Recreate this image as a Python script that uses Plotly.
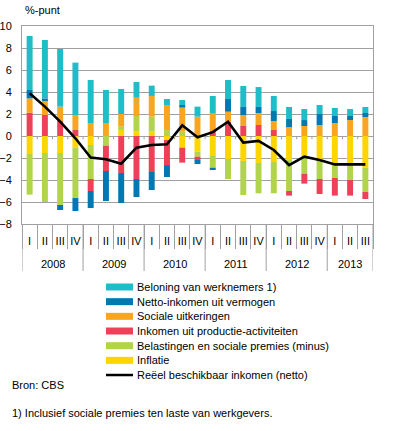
import plotly.graph_objects as go

years = ["2008"] * 4 + ["2009"] * 4 + ["2010"] * 4 + ["2011"] * 4 + ["2012"] * 4 + ["2013"] * 3
quarters = ["I", "II", "III", "IV"] * 5 + ["I", "II", "III"]
year_labels = ["2008", "2009", "2010", "2011", "2012", "2013"]

beloning = [4.91, 5.31, 5.24, 4.76, 3.91, 3.00, 2.27, 1.43, 0.94, 0.54, 0.45, 0.91,
            1.61, 1.73, 1.91, 1.81, 1.37, 1.09, 1.00, 0.82, 0.73, 0.63, 0.55]
netto_vermogen = [0.76, 0.15, -0.46, -1.18, -1.55, -2.73, -2.73, -1.64, -1.64, -1.09, 0.24, -0.37,
                  -0.21, 1.15, 0.73, 0.55, 0.91, 0.73, 0.54, 1.00, 0.64, 0.37, 0.36]
sociale = [1.30, 1.36, 1.31, 1.36, 1.18, 1.18, 1.15, 1.66, 1.88, 2.27, 2.19, 1.76,
           1.58, 0.91, 1.00, 1.09, 0.81, 0.82, 0.91, 1.00, 1.18, 1.45, 1.73]
productie = [2.12, 1.91, 1.36, 0.55, -1.09, -2.30, -3.36, -3.91, -3.27, -2.28, -1.36, -0.30,
             0.45, 1.30, 0.91, 1.00, 0.55, -0.42, -0.91, -1.36, -1.60, -1.42, -0.64]
belastingen = [-3.69, -4.45, -4.72, -4.58, -3.09, -0.88, 0.30, 1.37, 1.37, 0.55, 0.39, -0.46,
               -1.06, -1.82, -3.09, -2.76, -2.85, -2.82, -1.47, -1.73, -1.24, -1.36, -2.21]
inflatie = [-1.64, -1.55, -1.55, -1.06, -0.82, 0.00, 0.55, 0.45, 0.39, -0.36, -1.06, -1.42,
            -1.82, -2.09, -2.27, -2.45, -2.36, -2.18, -1.95, -2.18, -2.58, -2.64, -2.88]
reeel = [3.88, 2.67, 1.30, -0.21, -1.95, -2.12, -2.52, -1.06, -0.82, -0.75, 0.97, -0.12,
         0.35, 1.30, -0.60, -0.45, -1.27, -2.64, -1.88, -2.18, -2.58, -2.58, -2.58]

names = ["Inflatie", "Belastingen en sociale premies (minus)", "Inkomen uit productie-activiteiten",
         "Sociale uitkeringen", "Netto-inkomen uit vermogen", "Beloning van werknemers 1)"]
series = [inflatie, belastingen, productie, sociale, netto_vermogen, beloning]
colors = ["#FFD500", "#B2D44B", "#EE4159", "#F8A51F", "#0078B4", "#1FBDC8"]
line_name = "Reëel beschikbaar inkomen (netto)"

FONT = "Arial, Liberation Sans, sans-serif"
W, H = 396, 431
ML, MR, MT, MB = 22, 23, 26, 207
plot_w = W - ML - MR
plot_h = H - MT - MB

def px_x(p):
    return (p - ML) / plot_w
def px_y(p):
    return (H - MB - p) / plot_h

cats = [f"{y} {q}" for y, q in zip(years, quarters)]

fig = go.Figure()
for name, vals, col in zip(names, series, colors):
    fig.add_trace(go.Bar(x=cats, y=vals, name=name, marker=dict(color=col, line=dict(width=0)),
                         showlegend=False))
fig.add_trace(go.Scatter(x=cats, y=reeel, name=line_name, mode="lines",
                         line=dict(color="black", width=2.6), showlegend=False))

grid = "#A0A0A0"
fig.update_layout(
    width=W, height=H,
    margin=dict(l=ML, r=MR, t=MT, b=MB, autoexpand=False),
    paper_bgcolor="white", plot_bgcolor="white",
    barmode="relative", bargap=0.61,
    font=dict(family=FONT, size=11, color="black"),
    showlegend=False,
)
fig.update_yaxes(range=[-8, 10], dtick=2, showgrid=True, gridcolor=grid, gridwidth=1,
                 zeroline=True, zerolinecolor=grid, zerolinewidth=1,
                 showline=True, linecolor=grid, linewidth=1, mirror=True,
                 ticks="", ticklabelstandoff=7, tickfont=dict(size=11))
fig.update_xaxes(type="category", categoryorder="array", categoryarray=cats,
                 range=[-0.5, len(cats) - 0.5],
                 tickmode="array", tickvals=cats, ticktext=quarters,
                 showline=True, linecolor=grid, linewidth=1, mirror=True,
                 showgrid=False, ticks="outside", tickson="boundaries", ticklen=24,
                 tickcolor=grid, tickwidth=1, tickangle=0, ticklabelstandoff=7,
                 tickfont=dict(size=11))

n = len(cats)
# small ticks on the zero line at each quarter boundary
for i in range(1, n):
    fig.add_shape(type="line", xref="x", yref="y", x0=i - 0.5, x1=i - 0.5, y0=0, y1=-0.3,
                  line=dict(color=grid, width=1))

# year separators and year labels
bounds = [0]
for i in range(1, n):
    if years[i] != years[i - 1]:
        bounds.append(i)
bounds.append(n)
for b in bounds:
    fig.add_shape(type="line", xref="x", yref="paper", x0=b - 0.5, x1=b - 0.5,
                  y0=0, y1=px_y(271), line=dict(color=grid, width=1))
for j, yl in enumerate(year_labels):
    fig.add_annotation(text=yl, xref="x", yref="paper", x=(bounds[j] + bounds[j + 1] - 1) / 2,
                       y=px_y(264), xanchor="center", yanchor="middle", showarrow=False,
                       font=dict(size=11))

# y-axis unit
fig.add_annotation(text="%-punt", xref="paper", yref="paper", x=px_x(23), y=px_y(10),
                   xanchor="left", yanchor="middle", showarrow=False, font=dict(size=11))

# manual legend (order as in the reference)
leg_names = names[::-1] + [line_name]
leg_colors = colors[::-1] + ["black"]
for k, (nm, col) in enumerate(zip(leg_names, leg_colors)):
    cy = 287 + k * 14.67
    if k < 6:
        fig.add_shape(type="rect", xref="paper", yref="paper", x0=px_x(106), x1=px_x(133),
                      y0=px_y(cy - 3.5), y1=px_y(cy + 3.5), fillcolor=col, line=dict(width=0))
    else:
        fig.add_shape(type="line", xref="paper", yref="paper", x0=px_x(106), x1=px_x(133),
                      y0=px_y(cy), y1=px_y(cy), line=dict(color=col, width=2.5))
    fig.add_annotation(text=nm, xref="paper", yref="paper", x=px_x(135), y=px_y(cy),
                       xanchor="left", yanchor="middle", showarrow=False, font=dict(size=11))

fig.add_annotation(text="Bron: CBS", xref="paper", yref="paper", x=px_x(10), y=px_y(385),
                   xanchor="left", yanchor="middle", showarrow=False, font=dict(size=11))
fig.add_annotation(text="1) Inclusief sociale premies ten laste van werkgevers.", xref="paper",
                   yref="paper", x=px_x(10), y=px_y(413), xanchor="left", yanchor="middle",
                   showarrow=False, font=dict(size=11))

fig.write_html("out.html", config={"displayModeBar": False},
               post_script="document.body.style.margin='0';")
